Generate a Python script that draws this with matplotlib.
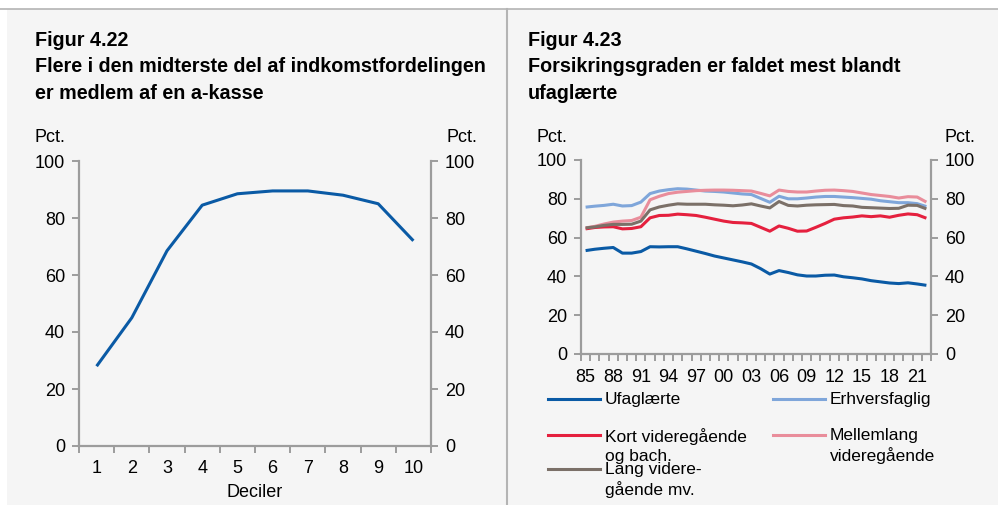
import matplotlib.pyplot as plt
import numpy as np
from matplotlib.lines import Line2D
from matplotlib.patches import Rectangle

plt.rcParams['font.family'] = ['Liberation Sans', 'DejaVu Sans']

# Figur 4.22: share of a-kasse members by income decile
deciles = np.arange(1, 11)
share_by_decile = [28, 45, 68.5, 84.5, 88.5, 89.5, 89.5, 88, 85, 72]

# Figur 4.23: insurance rate by education, 1985-2022
years = np.arange(1985, 2023)
ufaglaerte = [53.3, 54.0, 54.5, 54.9, 52.0, 52.0, 52.8, 55.3, 55.2, 55.3,
              55.3, 54.2, 53.0, 51.8, 50.5, 49.5, 48.5, 47.5, 46.4, 44.0,
              41.2, 43.0, 42.0, 40.8, 40.2, 40.2, 40.6, 40.7, 39.8, 39.3,
              38.7, 37.8, 37.2, 36.6, 36.3, 36.7, 36.1, 35.4]
erhvervsfaglig = [75.7, 76.2, 76.6, 77.2, 76.3, 76.5, 78.3, 82.7, 84.0, 84.7,
                  85.2, 85.0, 84.5, 84.0, 83.8, 83.5, 83.0, 82.5, 82.2, 80.2,
                  78.2, 81.3, 80.0, 80.0, 80.4, 80.9, 81.2, 81.2, 80.9, 80.6,
                  80.2, 79.8, 79.0, 78.5, 78.0, 78.0, 77.5, 76.0]
kort_vg = [64.5, 65.2, 65.5, 65.6, 64.5, 64.7, 65.6, 70.2, 71.4, 71.5,
           72.1, 71.8, 71.4, 70.5, 69.5, 68.5, 67.8, 67.6, 67.3, 65.3,
           63.3, 66.0, 64.8, 63.3, 63.4, 65.3, 67.3, 69.5, 70.2, 70.6,
           71.2, 70.8, 71.2, 70.5, 71.5, 72.2, 71.8, 70.0]
mellemlang_vg = [65.0, 65.8, 67.0, 68.0, 68.5, 68.8, 70.5, 79.5, 81.3, 82.7,
                 83.4, 83.8, 84.2, 84.4, 84.5, 84.5, 84.4, 84.2, 84.0, 82.8,
                 81.5, 84.5, 83.8, 83.5, 83.5, 84.0, 84.4, 84.5, 84.2, 83.8,
                 83.0, 82.2, 81.7, 81.2, 80.4, 81.1, 80.9, 78.3]
lang_vg = [65.0, 65.5, 66.3, 66.8, 66.8, 66.9, 68.5, 74.3, 75.8, 76.7,
           77.4, 77.2, 77.2, 77.2, 76.9, 76.7, 76.4, 76.8, 77.4, 76.3,
           75.3, 78.6, 76.6, 76.3, 76.7, 76.9, 77.0, 77.1, 76.5, 76.3,
           75.6, 75.4, 75.2, 75.0, 75.1, 76.7, 76.6, 74.8]

series = [
    ('Ufaglærte', ufaglaerte, '#0a5aa5'),
    ('Erhversfaglig', erhvervsfaglig, '#7fa6da'),
    ('Kort videregående\nog bach.', kort_vg, '#e5203e'),
    ('Mellemlang\nvideregående', mellemlang_vg, '#e98d9b'),
    ('Lang videre-\ngående mv.', lang_vg, '#7b7068'),
]

BG = '#f5f5f5'
AXCOL = '#9c9c9c'
FS = 13

W, H = 998, 505
fig = plt.figure(figsize=(W / 100, H / 100), dpi=100)
fig.patch.set_facecolor('white')


def px(x, y):
    return x / W, 1 - y / H


# panel background, top rule and separator
fig.patches.append(Rectangle(px(7, 505), 991 / W, 496 / H, transform=fig.transFigure,
                             facecolor=BG, edgecolor='none', zorder=-5))
fig.lines.append(Line2D([px(0, 9)[0], 1], [px(0, 9)[1]] * 2, transform=fig.transFigure,
                        color='#b4b4b4', lw=1.2, zorder=-4))
fig.lines.append(Line2D([px(507, 0)[0]] * 2, [px(0, 9)[1], 0], transform=fig.transFigure,
                        color='#b4b4b4', lw=1.5, zorder=-4))


def style_axes(ax):
    ax.set_facecolor('none')
    ax.set_ylim(0, 100)
    ax.set_yticks(np.arange(0, 101, 20))
    ax.spines['top'].set_visible(False)
    for s in ['left', 'right', 'bottom']:
        ax.spines[s].set_color(AXCOL)
        ax.spines[s].set_linewidth(1.6)
    ax.tick_params(axis='y', which='both', left=True, right=True, labelleft=True,
                   labelright=True, direction='out', length=5, width=1.4,
                   color=AXCOL, labelsize=FS, pad=5)
    ax.tick_params(axis='x', which='major', direction='out', length=5, width=1.4,
                   color=AXCOL, labelbottom=False)
    ax.tick_params(axis='x', which='minor', length=0, labelsize=FS, pad=10)


# --- left chart ---
ax1 = fig.add_axes([79 / W, 1 - 446 / H, 352 / W, 285 / H])
ax1.plot(deciles, share_by_decile, color='#0a5aa5', lw=2.2, solid_capstyle='butt')
ax1.set_xlim(0.5, 10.5)
ax1.set_xticks(np.arange(0.5, 11, 1))
ax1.set_xticks(deciles, minor=True)
ax1.set_xticklabels([str(d) for d in deciles], minor=True)
style_axes(ax1)
ax1.set_xlabel('Deciler', fontsize=FS, labelpad=5)

# --- right chart ---
ax2 = fig.add_axes([581 / W, 1 - 354 / H, 350 / W, 194 / H])
idx = np.arange(len(years))
for label, vals, col in series:
    ax2.plot(idx, vals, color=col, lw=2.2, solid_capstyle='butt')
ax2.set_xlim(-0.5, len(years) - 0.5)
ax2.set_xticks(np.arange(-0.5, len(years), 1))
ax2.set_xticks(idx[::3], minor=True)
ax2.set_xticklabels([f'{y % 100:02d}' for y in years[::3]], minor=True)
style_axes(ax2)
ax2.tick_params(axis='x', which='minor', pad=11)

# unit labels
for x, ha in [(35, 'left'), (477, 'right'), (537, 'left'), (975, 'right')]:
    fig.text(*px(x, 137), 'Pct.', fontsize=FS, ha=ha, va='center')

# titles
fig.text(*px(35, 31), 'Figur 4.22\nFlere i den midterste del af indkomstfordelingen\ner medlem af en a-kasse',
         fontsize=14.2, fontweight='bold', ha='left', va='top', linespacing=1.5)
fig.text(*px(528, 31), 'Figur 4.23\nForsikringsgraden er faldet mest blandt\nufaglærte',
         fontsize=14.2, fontweight='bold', ha='left', va='top', linespacing=1.5)

# legend for the right chart
slots = [(548, 399), (773, 399), (548, 435), (773, 435), (548, 469)]
for (x, y), (label, vals, col) in zip(slots, series):
    x0, y0 = px(x, y)
    x1, _ = px(x + 52, y)
    fig.lines.append(Line2D([x0, x1], [y0, y0], transform=fig.transFigure,
                            color=col, lw=2.2))
    fig.text(*px(x + 57, y - 7), label, fontsize=12.5, ha='left', va='top',
             linespacing=1.3)

fig.savefig('out.png', dpi=100, facecolor=fig.get_facecolor())
